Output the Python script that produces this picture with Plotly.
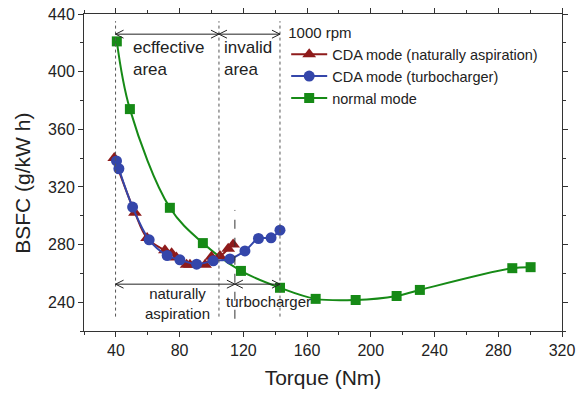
import plotly.graph_objects as go

# ---- data ----
torque_na = [39, 52, 59.6, 70.8, 75, 78, 84.4, 86.5, 96, 100, 105.3, 110.5, 113.6]
bsfc_na = [340, 302, 284.5, 276, 274, 271, 266, 266, 266, 271.5, 272, 277, 280]

torque_tc = [40.4, 41.9, 50.5, 60.9, 72.2, 80.2, 90.7, 101.1, 111.6, 121, 129.5, 137.4, 143]
bsfc_tc = [338, 332.6, 306, 283.3, 272.4, 269.4, 266.4, 268.7, 270, 275.6, 284.2, 284.7, 290]

torque_nm = [40.6, 48.8, 73.9, 94.6, 118.5, 143, 165.4, 190.5, 216.2, 230.8, 288.8, 300.3]
bsfc_nm = [421, 374, 305.5, 281, 261.7, 250, 242.3, 241.5, 244.3, 248.5, 263.6, 264.3]

series_names = ["CDA mode (naturally aspiration)", "CDA mode (turbocharger)", "normal mode"]
legend_title = "1000 rpm"

# region boundaries (torque) and annotation texts
boundary_x = [39.8, 104.7, 143.0]
turbo_x = 114.7
top_arrow_y = 426.0
bottom_arrow_y = 252.5
region_labels = ["ecffective<br>area", "invalid<br>area"]
bottom_labels = ["naturally<br>aspiration", "turbocharger"]

RED = "#8E1B1B"
BLUE = "#3446AA"
GREEN = "#168A16"
FONT = "Arial, Liberation Sans, sans-serif"

fig = go.Figure()

fig.add_trace(go.Scatter(
    x=torque_nm, y=bsfc_nm, name=series_names[2], legendrank=3,
    mode="lines+markers", line=dict(color=GREEN, width=2, shape="spline", smoothing=1.0),
    marker=dict(symbol="square", size=10, color=GREEN)))
fig.add_trace(go.Scatter(
    x=torque_na, y=bsfc_na, name=series_names[0], legendrank=1,
    mode="lines+markers", line=dict(color=RED, width=2, shape="spline", smoothing=1.0),
    marker=dict(symbol="triangle-up", size=12, color=RED)))
fig.add_trace(go.Scatter(
    x=torque_tc, y=bsfc_tc, name=series_names[1], legendrank=2,
    mode="lines+markers", line=dict(color=BLUE, width=2, shape="spline", smoothing=1.0),
    marker=dict(symbol="circle", size=11, color=BLUE)))

# ---- reference lines ----
shapes = []
for bx in boundary_x:
    shapes.append(dict(type="line", xref="x", yref="y", x0=bx, x1=bx, y0=230, y1=435,
                       line=dict(color="#555555", width=1, dash="dot")))
shapes.append(dict(type="line", xref="x", yref="y", x0=turbo_x, x1=turbo_x, y0=228.5, y1=304,
                   line=dict(color="#333333", width=1, dash="dash")))

# pixel -> data conversions for chevron arrow heads
PX_X = 300 / 478.0
PX_Y = 220 / 317.0
HL = 8 * PX_X
HH = 4 * PX_Y


def arrow(x0, x1, y):
    shapes.append(dict(type="line", xref="x", yref="y", x0=x0, x1=x1, y0=y, y1=y,
                       line=dict(color="#222222", width=1)))
    shapes.append(dict(type="path", xref="x", yref="y",
                       path=f"M {x0+HL} {y+HH} L {x0} {y} L {x0+HL} {y-HH}",
                       line=dict(color="#222222", width=1)))
    shapes.append(dict(type="path", xref="x", yref="y",
                       path=f"M {x1-HL} {y+HH} L {x1} {y} L {x1-HL} {y-HH}",
                       line=dict(color="#222222", width=1)))


arrow(boundary_x[0], boundary_x[1], top_arrow_y)
arrow(boundary_x[1], boundary_x[2], top_arrow_y)
arrow(boundary_x[0], turbo_x, bottom_arrow_y)
arrow(turbo_x, boundary_x[2], bottom_arrow_y)

annotations = [
    dict(x=49.8, y=409, text=region_labels[0], xanchor="left", yanchor="middle", align="left",
         font=dict(size=17, color="#222222", family=FONT)),
    dict(x=106.9, y=409, text=region_labels[1], xanchor="left", yanchor="middle", align="left",
         font=dict(size=17, color="#222222", family=FONT)),
    dict(x=78.6, y=238.8, text=bottom_labels[0], xanchor="center", yanchor="middle", align="center",
         font=dict(size=15, color="#222222", family=FONT)),
    dict(x=135.7, y=240.5, text=bottom_labels[1], xanchor="center", yanchor="middle", align="center",
         font=dict(size=15, color="#222222", family=FONT)),
]
for a in annotations:
    a.update(xref="x", yref="y", showarrow=False)

# y-axis title placed as a rotated paper annotation
annotations.append(dict(xref="paper", yref="paper", x=-0.128, y=0.467, text="BSFC (g/kW h)",
                        textangle=-90, showarrow=False, xanchor="center", yanchor="middle",
                        font=dict(size=21, color="#222222", family=FONT)))

axis_common = dict(
    automargin=False,
    showline=True, linecolor="#333333", linewidth=1, mirror="ticks",
    ticks="outside", ticklen=5, tickcolor="#333333", showgrid=False, zeroline=False,
    tickfont=dict(size=16, color="#222222", family=FONT),
    minor=dict(ticks="outside", ticklen=3, tickcolor="#333333", showgrid=False),
)

fig.update_layout(
    width=580, height=397,
    margin=dict(l=84, r=18, t=14, b=66),
    paper_bgcolor="white", plot_bgcolor="white",
    font=dict(family=FONT, color="#222222"),
    xaxis=dict(range=[20, 320], tick0=40, dtick=40, **axis_common,
               title=dict(text="Torque (Nm)", font=dict(size=21, family=FONT), standoff=12)),
    yaxis=dict(range=[220, 440], tick0=240, dtick=40, **axis_common),
    legend=dict(x=0.423, y=0.985, xanchor="left", yanchor="top", bgcolor="rgba(0,0,0,0)",
                title=dict(text=legend_title, font=dict(size=15, family=FONT)),
                font=dict(size=14.5, family=FONT), tracegroupgap=0, itemwidth=36),
    shapes=shapes, annotations=annotations, showlegend=True,
)
fig.update_xaxes(minor_dtick=20)
fig.update_yaxes(minor_dtick=20)

fig.write_html("out.html")
